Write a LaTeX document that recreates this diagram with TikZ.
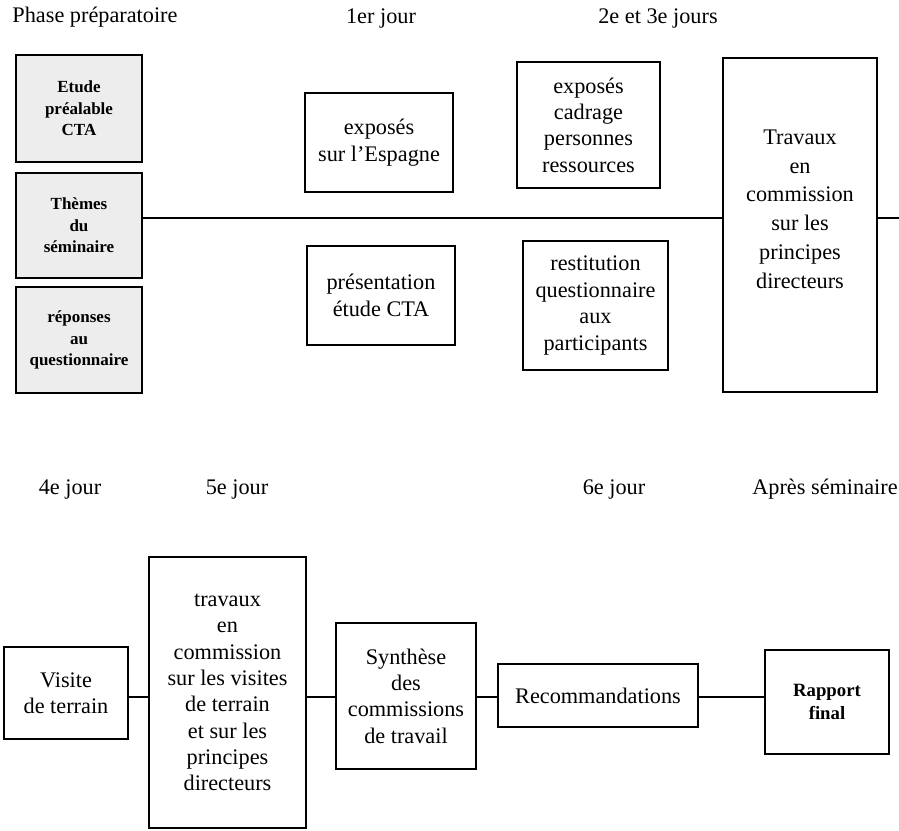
\documentclass[tikz,border=0pt]{standalone}
\usepackage{fontspec}
\setmainfont{Liberation Serif}
\tikzset{
  boite/.style={rectangle,draw,line width=1.1pt,align=center,inner sep=1pt,font=\fontsize{19}{22.5}\selectfont},
  prepa/.style={rectangle,draw,line width=2.4pt,fill=gray!14,align=center,inner sep=1pt,font=\bfseries\fontsize{14.5}{18.5}\selectfont},
  final/.style={rectangle,draw,line width=2.4pt,align=center,inner sep=1pt,font=\bfseries\fontsize{16}{19.5}\selectfont},
  titre/.style={font=\fontsize{19}{22.5}\selectfont,inner sep=0pt},
  lien/.style={line width=1.1pt}
}
\begin{document}
\begin{tikzpicture}[x=0.03cm,y=-0.03cm]
    \useasboundingbox (0,0) rectangle (899,830);
    % titres du haut
    \node[titre] (phase) at (95,17) {Phase préparatoire};
    \node[titre] (jour1) at (381,18) {1er jour};
    \node[titre] (jour23) at (658,18) {2e et 3e jours};
    % phase preparatoire
    \node[prepa,minimum width=3.78cm,minimum height=3.21cm] (etude) at (79,108.5) {Etude\\préalable\\CTA};
    \node[prepa,minimum width=3.78cm,minimum height=3.15cm] (themes) at (79,225.5) {Thèmes\\du\\séminaire};
    \node[prepa,minimum width=3.78cm,minimum height=3.18cm] (reponses) at (79,340) {réponses\\au\\questionnaire};
    % premiers jours
    \node[boite,minimum width=4.44cm,minimum height=2.97cm] (espagne) at (379,142.5) {exposés\\sur l'Espagne};
    \node[boite,minimum width=4.44cm,minimum height=2.97cm] (presentation) at (381,295.5) {présentation\\étude CTA};
    \node[boite,minimum width=4.29cm,minimum height=3.78cm] (cadrage) at (588.5,125) {exposés\\cadrage\\personnes\\ressources};
    \node[boite,minimum width=4.35cm,minimum height=3.87cm] (restitution) at (595.5,305.5) {restitution\\questionnaire\\aux\\participants};
    \node[boite,font=\fontsize{19}{24.5}\selectfont,minimum width=4.62cm,minimum height=10.02cm] (trav) at (800,225) {Travaux\\en\\commission\\sur les\\principes\\directeurs\\[0.1cm]};
    \coordinate (axe) at (0,218);
    \coordinate (fin) at (899,218);
    \draw[lien] (themes.east |- axe) -- (trav.west |- axe);
    \draw[lien] (trav.east |- axe) -- (fin);
    % titres du bas
    \node[titre] (jour4) at (70,489) {4e jour};
    \node[titre] (jour5) at (237,489) {5e jour};
    \node[titre] (jour6) at (614,489) {6e jour};
    \node[titre] (apres) at (825,489) {Après séminaire};
    % derniers jours
    \node[boite,minimum width=3.72cm,minimum height=2.76cm] (visite) at (66,693) {Visite\\de terrain};
    \node[boite,minimum width=4.71cm,minimum height=8.13cm] (travcom) at (227.5,692.5) {travaux\\en\\commission\\sur les visites\\de terrain\\et sur les\\principes\\directeurs};
    \node[boite,minimum width=4.2cm,minimum height=4.38cm] (synthese) at (406,696) {Synthèse\\des\\commissions\\de travail};
    \node[boite,minimum width=6.0cm,minimum height=1.89cm] (recom) at (598,695.5) {Recommandations};
    \node[final,minimum width=3.72cm,minimum height=3.12cm] (rapport) at (827,702) {Rapport\\final};
    \coordinate (axeb) at (0,697);
    \foreach \a/\b in {visite/travcom,travcom/synthese,synthese/recom,recom/rapport}
        \draw[lien] (\a.east |- axeb) -- (\b.west |- axeb);
\end{tikzpicture}
\end{document}
